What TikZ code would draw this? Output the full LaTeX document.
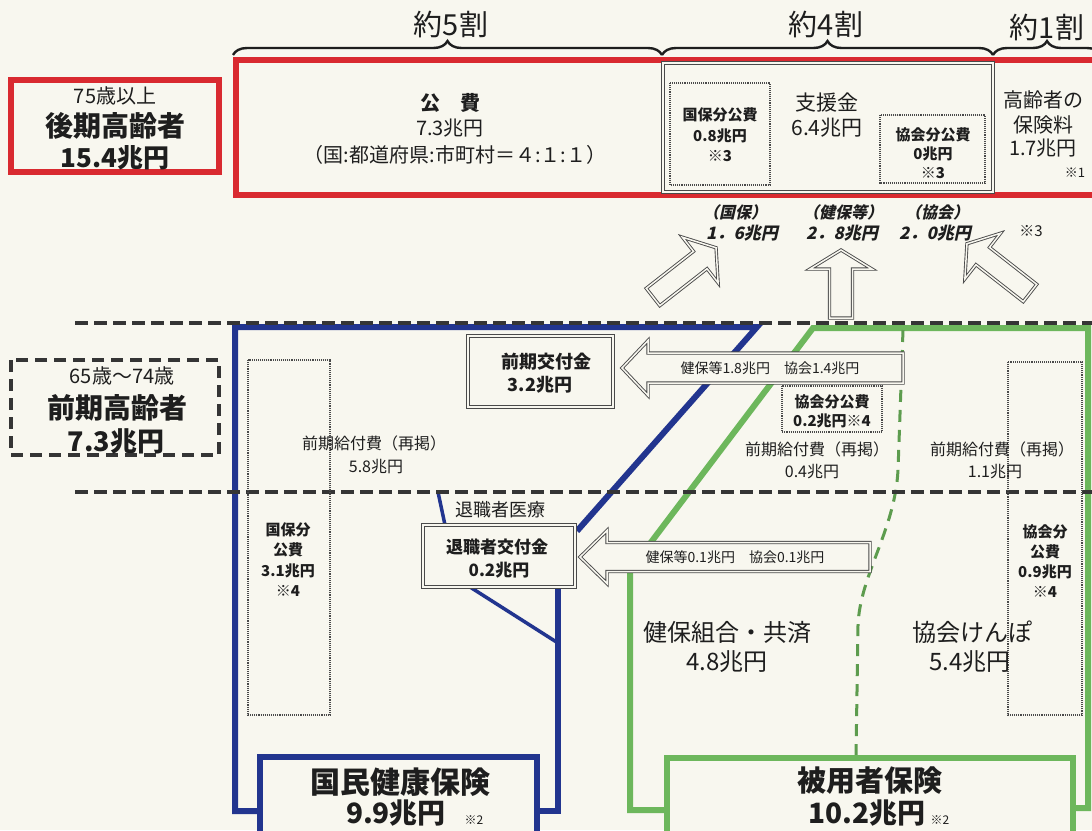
\documentclass[tikz,border=0pt]{standalone}
\usepackage{fontspec}
\setmainfont{Noto Sans CJK JP}
\newfontfamily\itjp[FakeSlant=0.22]{Noto Sans CJK JP}
\usetikzlibrary{decorations.pathreplacing}
\definecolor{bg}{HTML}{F8F7EF}
\definecolor{ink}{HTML}{1E1E1E}
\definecolor{rd}{HTML}{D92A30}
\definecolor{bl}{HTML}{22358F}
\definecolor{gr}{HTML}{6DB75C}
\definecolor{gline}{HTML}{4A4A4A}
\newcommand\blockarrow[6]{%
  \begin{scope}[shift={#1},rotate=#2]
    \draw[barrow] (0,-#4) -- ({#3-#6},-#4) -- ({#3-#6},-#5) -- (#3,0) -- ({#3-#6},#5) -- ({#3-#6},#4) -- (0,#4) -- cycle;
  \end{scope}}
\begin{document}
\begin{tikzpicture}[x=1pt,y=-1pt,
  every node/.style={inner sep=0pt,text=ink},
  f/.style={font=\fontsize{#1}{#1}\selectfont},
  fb/.style={font=\fontsize{#1}{#1}\selectfont\bfseries},
  fi/.style={font=\fontsize{#1}{#1}\selectfont\itjp\bfseries},
  redbox/.style={draw=rd,line width=6pt},
  dbox/.style={draw=gline,line width=0.9pt,double=bg,double distance=1.4pt,fill=bg},
  dotbox/.style={draw=gline,line width=1.1pt,densely dotted},
  barrow/.style={draw=gline,line width=0.9pt,double=bg,double distance=1.5pt,fill=bg,line join=miter},
  blackdash/.style={draw=ink!90,line width=4pt,dash pattern=on 13pt off 6pt},
  blueline/.style={draw=bl,line width=6pt,line join=miter},
  bluethin/.style={draw=bl,line width=3.5pt},
  greenline/.style={draw=gr,line width=6pt,line join=miter},
  greendash/.style={draw=gr!85!black,line width=3pt,dash pattern=on 12pt off 8pt},
  bracestyle/.style={draw=ink,line width=2.4pt,decorate,decoration={brace,amplitude=14pt}}]
\fill[bg] (0,0) rectangle (1092,830);
\useasboundingbox (0,0) rectangle (1092,830);
\clip (0,0) rectangle (1092,830);

% ---------- top: braces ----------
\coordinate (b1) at (233,55); \coordinate (b2) at (662,55);
\coordinate (b3) at (993,55); \coordinate (b4) at (1101,55);
\draw[bracestyle] (b1) -- (b2);
\draw[bracestyle] (b2) -- (b3);
\draw[bracestyle] (b3) -- (b4);
\node[f=29] (w5) at (451,24) {約5割};
\node[f=29] (w4) at (826,24) {約4割};
\node[f=29] (w1) at (1047,27) {約1割};

% ---------- top: boxes ----------
\node[redbox,minimum width=208pt,minimum height=92pt] (kbox) at (115,126) {};
\draw[redbox] (236,60) rectangle (1110,195);
\draw[draw=gline,line width=1pt,double=bg,double distance=1.2pt] (663,63) rectangle (993,192);
\draw[dotbox] (670,83) rectangle (770,185);
\draw[dotbox] (880,115) rectangle (985,183);

\node[f=20] (n75) at (115,96) {75歳以上};
\node[fb=28] (kouki) at (115,126) {後期高齢者};
\node[fb=26] (kouki2) at (115,158) {15.4兆円};

\node[fb=20] (kohi) at (450,103) {公　費};
\node[f=20] (kohi2) at (450,128) {7.3兆円};
\node[f=20] (kohi3) at (455,155) {（国:都道府県:市町村＝４:１:１）};

\node[fb=15] (kk1) at (720,115) {国保分公費};
\node[fb=15] (kk2) at (720,136) {0.8兆円};
\node[fb=15] (kk3) at (720,156) {※3};

\node[f=21] (shien) at (827,103) {支援金};
\node[f=21] (shien2) at (827,128) {6.4兆円};

\node[fb=15] (kb1) at (933,135) {協会分公費};
\node[fb=15] (kb2) at (933,154) {0兆円};
\node[fb=15] (kb3) at (933,173) {※3};

\node[f=20] (hk1) at (1043,100) {高齢者の};
\node[f=20] (hk2) at (1043,125) {保険料};
\node[f=20] (hk3) at (1043,148) {1.7兆円};
\node[f=13] (hk4) at (1075,173) {※1};

\node[fi=16] (lk1) at (735,212) {（国保）};
\node[fi=17] (lk2) at (742,233) {1．6兆円};
\node[fi=16] (lk3) at (843,212) {（健保等）};
\node[fi=17] (lk4) at (842,233) {2．8兆円};
\node[fi=16] (lk5) at (937,212) {（協会）};
\node[fi=17] (lk6) at (935,233) {2．0兆円};
\node[f=15] (lk7) at (1031,231) {※3};

% upward block arrows
\blockarrow{(653,297)}{38}{80}{11}{29}{20}
\blockarrow{(841,318)}{90}{68}{11.5}{31}{19}
\blockarrow{(1030,293)}{142}{80}{11}{29}{20}

% ---------- blue (国保) outline ----------
\coordinate (bl1) at (260,811); \coordinate (bl2) at (235,811);
\coordinate (bl3) at (235,327); \coordinate (bl4) at (757,327);
\coordinate (bl5) at (577,531);
\draw[blueline] (bl1) -- (bl2) -- (bl3) -- (bl4) -- (bl5);
\draw[blueline] (558,587) -- (558,811) -- (537,811);
\draw[bluethin] (438,492) -- (445,525);
\draw[bluethin] (470,587) -- (558,643);

% ---------- green (被用者) outline ----------
\coordinate (g1) at (667,810); \coordinate (g2) at (630,810);
\coordinate (g3) at (630,570); \coordinate (g4) at (813,328);
\coordinate (g5) at (1088,328); \coordinate (g6) at (1088,808);
\coordinate (g7) at (1073,808);
\draw[greenline] (g1) -- (g2) -- (g3) -- (g4) -- (g5) -- (g6) -- (g7);
\draw[greendash] (903,330) -- (898,470) .. controls (895,530) and (860,575) .. (858,625) -- (856,757);

% ---------- dashed band ----------
\draw[blackdash] (75,323) -- (1092,323);
\draw[blackdash] (75,492) -- (1092,492);
\draw[blackdash,line width=4pt,dash pattern=on 12pt off 7pt] (11,360) rectangle (219,455);

\node[f=20] (n65) at (122,376) {65歳～74歳};
\node[fb=28] (zenki) at (117,408) {前期高齢者};
\node[fb=27] (zenki2) at (116,441) {7.3兆円};

% dotted tall boxes
\draw[dotbox] (248,360) rectangle (330,715);
\draw[dotbox] (1008,362) rectangle (1082,715);
\draw[dotbox] (782,386) rectangle (882,432);

\node[fb=15] (kp1) at (288,530) {国保分};
\node[fb=15] (kp2) at (288,550) {公費};
\node[fb=15] (kp3) at (288,571) {3.1兆円};
\node[fb=15] (kp4) at (288,591) {※4};

\node[fb=15] (kq1) at (1045,532) {協会分};
\node[fb=15] (kq2) at (1045,552) {公費};
\node[fb=15] (kq3) at (1045,572) {0.9兆円};
\node[fb=15] (kq4) at (1045,592) {※4};

\node[fb=15] (kr1) at (832,402) {協会分公費};
\node[fb=15] (kr2) at (832,421) {0.2兆円※4};

\node[f=16] (zk1) at (374,443) {前期給付費（再掲）};
\node[f=16] (zk2) at (376,467) {5.8兆円};
\node[f=16] (zk3) at (817,449) {前期給付費（再掲）};
\node[f=16] (zk4) at (812,472) {0.4兆円};
\node[f=16] (zk5) at (1002,449) {前期給付費（再掲）};
\node[f=16] (zk6) at (995,472) {1.1兆円};

% ---------- transfer boxes ----------
\node[dbox,minimum width=145pt,minimum height=71pt] (zkbox) at (540.5,371.5) {};
\node[fb=18] (zkt1) at (546,362) {前期交付金};
\node[fb=18] (zkt2) at (540,385) {3.2兆円};

\node[dbox,minimum width=152pt,minimum height=62pt] (tkbox) at (499,556) {};
\node[fb=17] (tkt1) at (497,547) {退職者交付金};
\node[fb=17] (tkt2) at (499,570) {0.2兆円};
\node[f=18] (tir) at (500,510) {退職者医療};

% horizontal block arrows
\blockarrow{(903,368)}{180}{281}{15}{27.5}{26}
\node[f=14] (a1t) at (770,368) {健保等1.8兆円　協会1.4兆円};
\blockarrow{(870,557)}{180}{290}{14.5}{26.5}{27}
\node[f=14] (a2t) at (735,557) {健保等0.1兆円　協会0.1兆円};

% ---------- big labels ----------
\node[f=24] (kk) at (727,632) {健保組合・共済};
\node[f=24] (kk2) at (727,662) {4.8兆円};
\node[f=24] (kyk) at (972,632) {協会けんぽ};
\node[f=24] (kyk2) at (970,662) {5.4兆円};

% ---------- bottom boxes ----------
\draw[blueline,fill=bg] (260,757) rectangle (537,850);
\node[fb=30] (koku) at (400,782) {国民健康保険};
\node[fb=28] (koku2) at (396,813) {9.9兆円};
\node[f=12] (koku3) at (474,820) {※2};

\draw[greenline,fill=bg] (667,758) rectangle (1073,850);
\node[fb=29] (hiyo) at (870,781) {被用者保険};
\node[fb=28] (hiyo2) at (867,813) {10.2兆円};
\node[f=12] (hiyo3) at (940,820) {※2};
\end{tikzpicture}
\end{document}
